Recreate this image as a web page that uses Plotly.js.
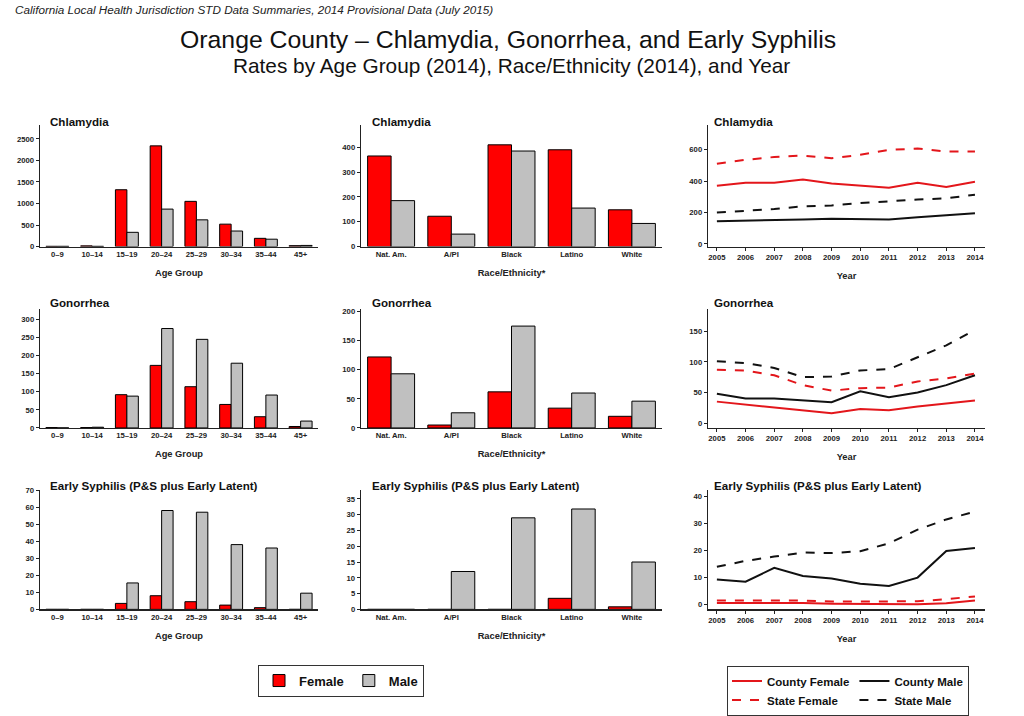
<!DOCTYPE html>
<html>
<head>
<meta charset="utf-8">
<script src="https://cdn.plot.ly/plotly-3.0.1.min.js"></script>
<style>html,body{margin:0;padding:0;background:#fff;}#chart{width:1024px;height:716px;}</style>
</head>
<body>
<div id="chart"></div>
<script>
// ---------- data ----------
var ageGroups = ["0–9","10–14","15–19","20–24","25–29","30–34","35–44","45+"];
var races = ["Nat. Am.","A/PI","Black","Latino","White"];
var years = [2005,2006,2007,2008,2009,2010,2011,2012,2013,2014];

var chlAgeFemale = [5,15,1320,2340,1050,520,190,20];
var chlAgeMale   = [5,5,330,870,620,360,170,25];
var gonAgeFemale = [1,1,92,173,114,65,31,4];
var gonAgeMale   = [0,2,88,275,245,179,91,19];
var syphAgeFemale = [0,0,3.5,8,4.5,2.5,1,0];
var syphAgeMale   = [0,0,15.5,58,57,38,36,9.5];

var chlRaceFemale = [365,122,410,390,148];
var chlRaceMale   = [185,50,385,155,93];
var gonRaceFemale = [122,5,62,34,20];
var gonRaceMale   = [93,26,175,60,46];
var syphRaceFemale = [0,0,0,3.5,0.8];
var syphRaceMale   = [0,12,29,31.8,15];

var chlCountyFemale = [370,390,390,410,385,370,358,390,362,395];
var chlCountyMale   = [145,147,150,155,160,158,155,170,183,195];
var chlStateFemale  = [510,535,553,562,545,567,598,607,588,588];
var chlStateMale    = [200,210,222,240,245,260,272,283,290,313];

var gonCountyFemale = [35,30,26,21,16,23,21,27,32,37];
var gonCountyMale   = [48,40,40,37,34,52,42,50,62,78];
var gonStateFemale  = [87,86,78,62,53,57,58,68,73,81];
var gonStateMale    = [101,98,90,75,76,86,88,108,127,152];

var syphCountyFemale = [0.6,0.6,0.7,0.6,0.3,0.3,0.2,0.1,0.5,1.5];
var syphCountyMale   = [9.3,8.5,13.6,10.6,9.7,7.7,6.9,10,19.9,21];
var syphStateFemale  = [1.5,1.5,1.6,1.5,1.1,1.1,1.1,1.2,2,3];
var syphStateMale    = [14,16.2,17.8,19.3,19.1,19.8,22.7,27.8,31.6,34.5];

// ---------- styling ----------
var FONT = "Liberation Sans, Arial, sans-serif";
var RED = "#ff0000", GREY = "#c0c0c0", LRED = "#e3161b", BLK = "#111111";
var W = 1024, H = 716;
function xd(a,b){return [a/W,b/W];}
function yd(top,bot){return [1-bot/H,1-top/H];}

var cols = [xd(40,318), xd(361,662), xd(708,985)];
var rows = [yd(127,250), yd(313,434), yd(497,618)];

var traces = [];
var layout = {
  width: W, height: H,
  margin: {l:0,r:0,t:0,b:0},
  paper_bgcolor: "#fff", plot_bgcolor: "#fff",
  font: {family: FONT, color: "#111"},
  showlegend: true,
  annotations: [], shapes: []
};

function barPair(idx, cats, fem, male, w, first){
  var xa = "x"+(idx===1?"":idx), ya = "y"+(idx===1?"":idx);
  traces.push({type:"bar", x:cats, y:fem, name:"Female", xaxis:xa, yaxis:ya,
    width:w, offset:-w, marker:{color:RED, line:{color:"#000", width:1}},
    showlegend:first, legend:"legend", hoverinfo:"x+y"});
  traces.push({type:"bar", x:cats, y:male, name:"Male", xaxis:xa, yaxis:ya,
    width:w, offset:0, marker:{color:GREY, line:{color:"#000", width:1}},
    showlegend:first, legend:"legend", hoverinfo:"x+y"});
}
function lineSet(idx, cf, cm, sf, sm, first){
  var xa = "x"+idx, ya = "y"+idx;
  var common = {type:"scatter", mode:"lines", x:years, xaxis:xa, yaxis:ya, legend:"legend2", showlegend:first};
  traces.push(Object.assign({}, common, {y:cf, name:"County Female", legendgroup:"f", line:{color:LRED, width:2}}));
  traces.push(Object.assign({}, common, {y:cm, name:"County Male", legendgroup:"m", line:{color:BLK, width:2}}));
  traces.push(Object.assign({}, common, {y:sf, name:"State Female", legendgroup:"f", line:{color:LRED, width:2, dash:"dash"}}));
  traces.push(Object.assign({}, common, {y:sm, name:"State Male", legendgroup:"m", line:{color:BLK, width:2, dash:"dash"}}));
}

var tickF = {family:FONT, size:7.7, color:"#222", weight:"bold"};
var titleF = {family:FONT, size:9.3, color:"#222", weight:"bold"};

function setAxes(idx, col, row, yrange, dtick, xtitle, isLine, xrange){
  var xk = "xaxis"+(idx===1?"":idx), yk = "yaxis"+(idx===1?"":idx);
  var ya = "y"+(idx===1?"":idx), xa = "x"+(idx===1?"":idx);
  layout[xk] = {domain:cols[col], anchor:ya, showline:true, linecolor:"#222", linewidth:1.3,
    showgrid:false, zeroline:false, tickfont:tickF, automargin:false, fixedrange:true,
    title:{text:xtitle, font:titleF, standoff:11},
    ticks: isLine ? "outside" : "", ticklen:3, tickcolor:"#222"};
  if(isLine){
    layout[xk].type = "linear";
    layout[xk].tickvals = years;
    layout[xk].ticktext = years.map(String);
    layout[xk].range = xrange;
  }
  layout[yk] = {domain:rows[row], anchor:xa, showline:true, linecolor:"#222", linewidth:1.3,
    showgrid:false, zeroline:false, range:yrange, dtick:dtick, tick0:0, ticks:"outside", ticklen:3,
    tickcolor:"#222", tickfont:tickF, automargin:false, fixedrange:true};
}

// row 1
barPair(1, ageGroups, chlAgeFemale, chlAgeMale, 0.33, true);
barPair(2, races, chlRaceFemale, chlRaceMale, 0.39, false);
lineSet(3, chlCountyFemale, chlCountyMale, chlStateFemale, chlStateMale, true);
// row 2
barPair(4, ageGroups, gonAgeFemale, gonAgeMale, 0.33, false);
barPair(5, races, gonRaceFemale, gonRaceMale, 0.39, false);
lineSet(6, gonCountyFemale, gonCountyMale, gonStateFemale, gonStateMale, false);
// row 3
barPair(7, ageGroups, syphAgeFemale, syphAgeMale, 0.33, false);
barPair(8, races, syphRaceFemale, syphRaceMale, 0.39, false);
lineSet(9, syphCountyFemale, syphCountyMale, syphStateFemale, syphStateMale, false);

var yr = [2004.69, 2014.35];
setAxes(1,0,0,[0,2820],500,"Age Group",false);
setAxes(2,1,0,[0,489],100,"Race/Ethnicity*",false);
setAxes(3,2,0,[-16,755],200,"Year",true,yr);
setAxes(4,0,1,[0,330],50,"Age Group",false);
setAxes(5,1,1,[0,205],50,"Race/Ethnicity*",false);
setAxes(6,2,1,[-8,187],50,"Year",true,yr);
setAxes(7,0,2,[0,70],10,"Age Group",false);
setAxes(8,1,2,[0,37.8],5,"Race/Ethnicity*",false);
setAxes(9,2,2,[-1.8,42.5],10,"Year",true,yr);

// titles
function ann(text, xpx, ypx, size, opts){
  var a = Object.assign({text:text, xref:"paper", yref:"paper", x:xpx/W, y:1-ypx/H,
    showarrow:false, xanchor:"left", yanchor:"middle",
    font:{family:FONT, size:size, color:"#111"}}, opts||{});
  layout.annotations.push(a);
}
ann("<i>California Local Health Jurisdiction STD Data Summaries, 2014 Provisional Data (July 2015)</i>", 13, 10, 11.7, {font:{family:FONT,size:11.7,color:"#222"}});
ann("Orange County – Chlamydia, Gonorrhea, and Early Syphilis", 508, 40, 24.8, {xanchor:"center"});
ann("Rates by Age Group (2014), Race/Ethnicity (2014), and Year", 511, 66, 20.8, {xanchor:"center"});

var subT = ["Chlamydia","Gonorrhea","Early Syphilis (P&S plus Early Latent)"];
var subX = [48, 370, 712];
var subY = [123, 307, 492];
for(var r=0;r<3;r++){
  for(var c=0;c<3;c++){
    ann("<b>"+subT[r]+"</b>", subX[c], subY[r], 11.6, {font:{family:FONT,size:11.6,color:"#111"}});
  }
}

// legends
layout.legend = {x:258/W, y:1-674/H, xanchor:"left", yanchor:"top", orientation:"h",
  bgcolor:"#fff", bordercolor:"#333", borderwidth:1,
  font:{family:FONT, size:13, color:"#111", weight:"bold"}, itemwidth:30};
layout.legend2 = {x:727/W, y:1-675/H, xanchor:"left", yanchor:"top", orientation:"h",
  traceorder:"grouped", tracegroupgap:0,
  bgcolor:"#fff", bordercolor:"#333", borderwidth:1,
  font:{family:FONT, size:11.5, color:"#111", weight:"bold"}, itemwidth:30};

Plotly.newPlot("chart", traces, layout, {displayModeBar:false, staticPlot:true});
</script>
</body>
</html>
